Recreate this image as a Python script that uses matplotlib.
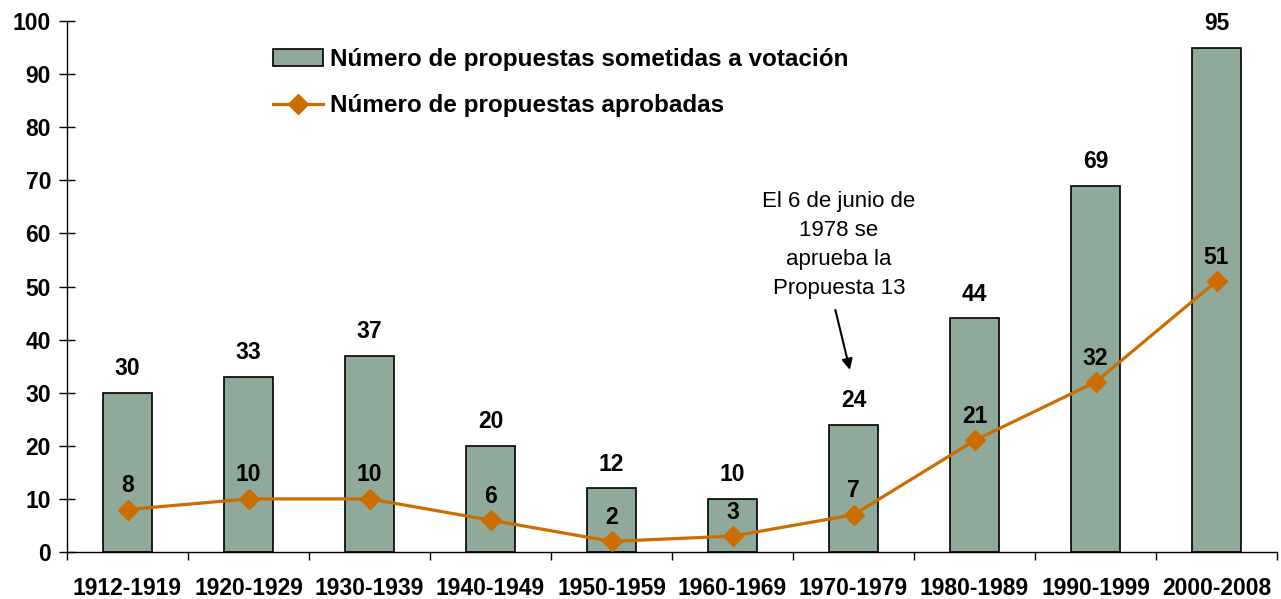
import numpy as np
import matplotlib.pyplot as plt

plt.rcParams['font.family'] = ['Liberation Sans', 'DejaVu Sans']

# Datos
periodos = ["1912-1919", "1920-1929", "1930-1939", "1940-1949", "1950-1959",
            "1960-1969", "1970-1979", "1980-1989", "1990-1999", "2000-2008"]
sometidas = [30, 33, 37, 20, 12, 10, 24, 44, 69, 95]
aprobadas = [8, 10, 10, 6, 2, 3, 7, 21, 32, 51]

bar_color = "#8FA99A"
line_color = "#CC6D00"

fig = plt.figure(figsize=(12.81, 5.99), dpi=100)
ax = fig.add_axes([67 / 1281, 47 / 599, 1210 / 1281, 531 / 599])

x = np.arange(len(periodos))
barras = ax.bar(x, sometidas, width=0.41, color=bar_color, edgecolor="black", linewidth=1.2,
                label="Número de propuestas sometidas a votación", zorder=2)
linea, = ax.plot(x, aprobadas, color=line_color, linewidth=2.3, marker="D", markersize=10,
                 label="Número de propuestas aprobadas", zorder=3)

for xi, v in zip(x, sometidas):
    ax.annotate(str(v), (xi, v), xytext=(0, 9), textcoords="offset points",
                ha="center", va="bottom", fontsize=16.5, fontweight="bold")
for xi, v in zip(x, aprobadas):
    ax.annotate(str(v), (xi, v), xytext=(0, 9), textcoords="offset points",
                ha="center", va="bottom", fontsize=16.5, fontweight="bold", zorder=4)

# nota Propuesta 13
ax.text(5.88, 47.6, "El 6 de junio de\n1978 se\naprueba la\nPropuesta 13",
        ha="center", va="bottom", fontsize=16, linespacing=1.5)
ax.annotate("", xy=(5.97, 34.3), xytext=(5.85, 45.6),
            arrowprops=dict(arrowstyle="-|>", color="black", lw=1.5,
                            mutation_scale=16, shrinkA=0, shrinkB=0))

ax.set_xlim(-0.5, len(periodos) - 0.5)
ax.set_ylim(0, 100)
ax.set_yticks(np.arange(0, 101, 10))
ax.set_xticks(x)
ax.set_xticklabels(periodos, fontsize=16.5, fontweight="bold")
ax.set_xticks(np.arange(-0.5, len(periodos), 1), minor=True)
ax.tick_params(axis="x", which="major", length=0, pad=18)
ax.tick_params(axis="x", which="minor", direction="out", length=6, width=1)
ax.tick_params(axis="y", direction="inout", length=11, width=1, pad=6)
for lbl in ax.get_yticklabels():
    lbl.set_fontsize(16.5)
    lbl.set_fontweight("bold")

for s in ["top", "right"]:
    ax.spines[s].set_visible(False)
for s in ["left", "bottom"]:
    ax.spines[s].set_linewidth(1)

ax.legend([barras, linea], [barras.get_label(), linea.get_label()],
          loc="upper left", bbox_to_anchor=(0.152, 0.99), frameon=False,
          prop={"size": 17.5, "weight": "bold"}, handlelength=2.05,
          handletextpad=0.3, labelspacing=0.95)

fig.savefig("out.png", dpi=100)
